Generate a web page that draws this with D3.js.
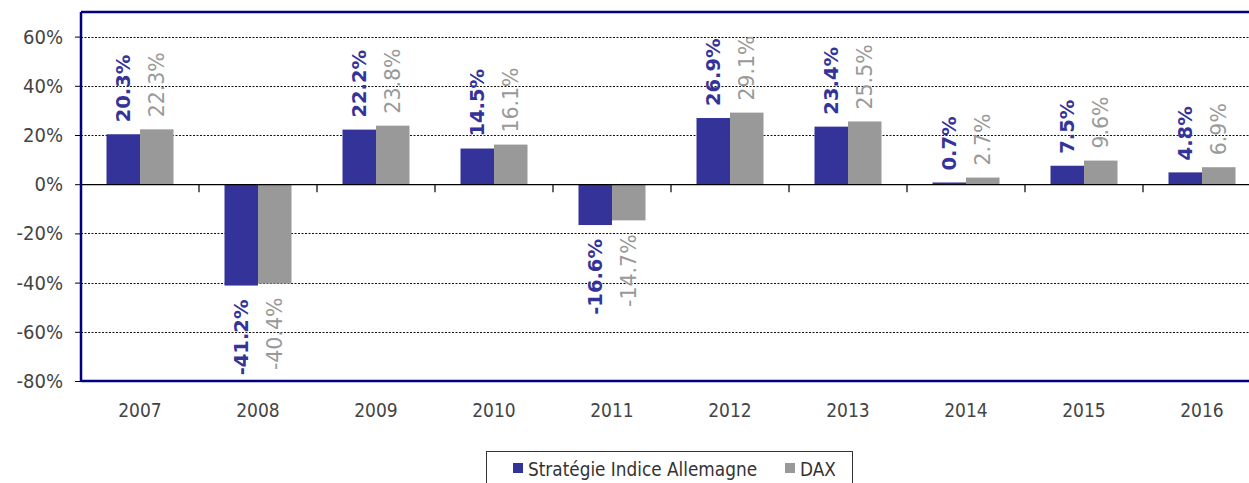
<!DOCTYPE html>
<html>
<head>
<meta charset="utf-8">
<script src="https://cdn.jsdelivr.net/npm/d3@7"></script>
<style>
  html, body { margin: 0; padding: 0; background: #fff; }
  svg { display: block; font-family: "DejaVu Sans Condensed", "DejaVu Sans", sans-serif; }
</style>
</head>
<body>
<svg id="chart" width="1249" height="483"></svg>
<script>
// Annual performance: strategy vs. DAX
const years = ["2007", "2008", "2009", "2010", "2011", "2012", "2013", "2014", "2015", "2016"];
const seriesNames = ["Stratégie Indice Allemagne", "DAX"];
const strategyValues = [20.3, -41.2, 22.2, 14.5, -16.6, 26.9, 23.4, 0.7, 7.5, 4.8];
const daxValues = [22.3, -40.4, 23.8, 16.1, -14.7, 29.1, 25.5, 2.7, 9.6, 6.9];
const yTicks = [60, 40, 20, 0, -20, -40, -60, -80];

const colors = { [seriesNames[0]]: "#333399", [seriesNames[1]]: "#999999" };
const valuesBySeries = { [seriesNames[0]]: strategyValues, [seriesNames[1]]: daxValues };

const svg = d3.select("#chart");
const plot = { left: 81, top: 12, bottom: 381, right: 1261 };

const y = d3.scaleLinear().domain([-80, 70]).range([plot.bottom, plot.top]);
const x0 = d3.scaleBand().domain(years).range([plot.left, plot.right]).padding(0);
const x1 = d3.scaleBand().domain(seriesNames).range([25.5, 92.5]).padding(0);

// dashed gridlines
svg.append("g")
  .selectAll("line")
  .data(yTicks.filter(t => t !== 0 && t !== -80))
  .join("line")
  .attr("x1", plot.left).attr("x2", plot.right)
  .attr("y1", d => Math.round(y(d)) + 0.5).attr("y2", d => Math.round(y(d)) + 0.5)
  .attr("stroke", "#111").attr("stroke-width", 1)
  .attr("stroke-dasharray", "2,1.5");

// bars
const rows = years.flatMap((yr, i) => seriesNames.map(s => ({ year: yr, series: s, value: valuesBySeries[s][i] })));

svg.append("g")
  .selectAll("rect")
  .data(rows)
  .join("rect")
  .attr("x", d => x0(d.year) + x1(d.series))
  .attr("width", x1.bandwidth())
  .attr("y", d => Math.min(y(d.value), y(0)))
  .attr("height", d => Math.abs(y(d.value) - y(0)))
  .attr("fill", d => colors[d.series]);

// value labels, rotated
svg.append("g")
  .selectAll("text")
  .data(rows)
  .join("text")
  .attr("transform", d => {
    const cx = x0(d.year) + x1(d.series) + x1.bandwidth() / 2;
    const cy = d.value >= 0 ? y(d.value) - 12 : y(d.value) + 14;
    return `translate(${cx},${cy}) rotate(-90)`;
  })
  .attr("text-anchor", d => d.value >= 0 ? "start" : "end")
  .attr("dy", "0.36em")
  .attr("font-family", "'DejaVu Sans', sans-serif")
  .attr("font-size", d => d.series === seriesNames[0] ? 19.5 : 20.5)
  .attr("font-weight", d => d.series === seriesNames[0] ? "bold" : "normal")
  .attr("fill", d => colors[d.series])
  .text(d => d.value.toFixed(1) + "%");

// zero line with category ticks
const xAxis = svg.append("g")
  .attr("transform", `translate(0,${y(0)})`)
  .call(d3.axisBottom(x0).tickSize(0).tickFormat(""));
xAxis.select(".domain").attr("stroke", "#000").attr("stroke-width", 1.2);
svg.append("g")
  .selectAll("line")
  .data(years.slice(1))
  .join("line")
  .attr("x1", d => x0(d)).attr("x2", d => x0(d))
  .attr("y1", y(0)).attr("y2", y(0) + 8)
  .attr("stroke", "#000").attr("stroke-width", 1.2);

// year labels
svg.append("g")
  .selectAll("text")
  .data(years)
  .join("text")
  .attr("x", d => x0(d) + x0.bandwidth() / 2)
  .attr("y", 417)
  .attr("text-anchor", "middle")
  .attr("font-size", 19)
  .attr("fill", "#444")
  .text(d => d);

// y axis
const yAxis = svg.append("g")
  .attr("transform", `translate(${plot.left},0)`)
  .call(d3.axisLeft(y).tickValues(yTicks).tickSize(6).tickPadding(12).tickFormat(d => d + "%"));
yAxis.select(".domain").remove();
yAxis.selectAll(".tick line").attr("stroke", "#000");
yAxis.selectAll(".tick text").attr("font-size", 20).attr("fill", "#444")
  .attr("font-family", "'DejaVu Sans Condensed', 'DejaVu Sans', sans-serif");

// plot frame (navy)
svg.append("line").attr("x1", plot.left).attr("x2", plot.right).attr("y1", plot.top).attr("y2", plot.top)
  .attr("stroke", "#000080").attr("stroke-width", 2.5);
svg.append("line").attr("x1", plot.left).attr("x2", plot.right).attr("y1", plot.bottom).attr("y2", plot.bottom)
  .attr("stroke", "#000080").attr("stroke-width", 2.5);
svg.append("line").attr("x1", plot.left).attr("x2", plot.left).attr("y1", plot.top).attr("y2", plot.bottom)
  .attr("stroke", "#000080").attr("stroke-width", 2.5);

// legend
const legend = svg.append("g");
legend.append("rect")
  .attr("x", 486.5).attr("y", 451.5).attr("width", 366).attr("height", 40)
  .attr("fill", "#fff").attr("stroke", "#333").attr("stroke-width", 1);
const legendItems = [
  { name: seriesNames[0], sx: 513, tx: 528 },
  { name: seriesNames[1], sx: 785, tx: 800 }
];
legend.selectAll("rect.key")
  .data(legendItems)
  .join("rect")
  .attr("class", "key")
  .attr("x", d => d.sx).attr("y", 463).attr("width", 10).attr("height", 10)
  .attr("fill", d => colors[d.name]);
legend.selectAll("text")
  .data(legendItems)
  .join("text")
  .attr("x", d => d.tx).attr("y", 476)
  .attr("font-size", 18.8)
  .attr("fill", "#333")
  .text(d => d.name);
</script>
</body>
</html>
